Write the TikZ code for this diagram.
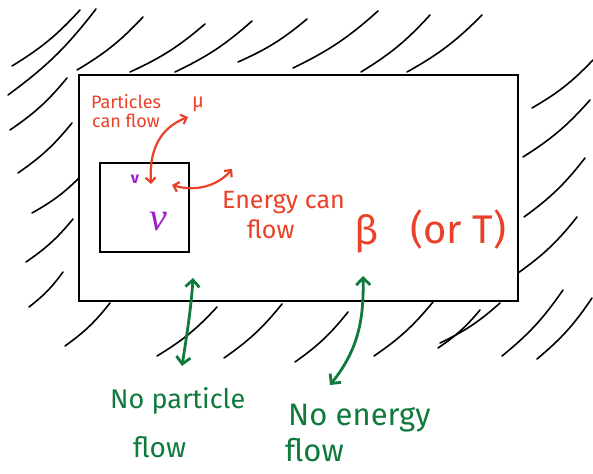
\documentclass[tikz,border=0pt]{standalone}
\usepackage{fontspec}
\setmainfont{Fira Sans}
\newfontfamily\serifgreek{Liberation Serif}
\usetikzlibrary{arrows.meta}
\definecolor{hred}{HTML}{EA4128}
\definecolor{hgreen}{HTML}{0F7A3C}
\definecolor{hpurple}{HTML}{A01FC8}
\tikzset{
  hatch/.style={line width=1.6pt, line cap=round},
  wall/.style={draw=black, line width=2.2pt},
  redarrow/.style={hred, line width=2.2pt, line cap=round, {Straight Barb[length=5pt,width=10pt]}-{Straight Barb[length=5pt,width=10pt]}},
  greenarrow/.style={hgreen, line width=2.8pt, line cap=round, {Straight Barb[length=7pt,width=14pt]}-{Straight Barb[length=7pt,width=14pt]}},
  redtxt/.style={text=hred, inner sep=0pt, anchor=west},
  greentxt/.style={text=hgreen, inner sep=0pt, anchor=west},
}
\begin{document}
\begin{tikzpicture}[x=1pt,y=-1pt]
\useasboundingbox (0,0) rectangle (593,473);
% hatching
\foreach \xa/\ya/\xb/\yb in {12/66/80/10, 8/95/96/9, 77/70/143/17, 130/72/205/24, 175/72/252/21, 238/62/307/19, 293/68/378/11, 361/72/430/15, 407/72/482/15,
  10/130/67/78, 18/173/72/123, 32/213/82/175, 26/262/73/219, 29/307/63/272, 65/346/110/303, 157/356/217/307, 224/358/282/304, 295/362/348/312, 374/356/433/302, 438/348/480/310, 440/343/500/303, 502/356/563/290, 537/359/592/298,
  532/108/593/60, 523/157/590/100, 524/217/585/158, 518/273/577/217}
  \draw[hatch] (\xa,\ya) to[bend right=8] (\xb,\yb);
% boxes
\node[wall, fill=white, inner sep=0pt, minimum width=439pt, minimum height=226pt, anchor=north west] (outer) at (78,74) {};
\node[wall, inner sep=0pt, minimum width=89pt, minimum height=89pt, anchor=north west] (inner) at (99,162) {};
% red labels
\node[redtxt, font=\fontsize{18}{18}\selectfont] (part) at (91,102) {Particles};
\node[redtxt, font=\fontsize{18}{18}\selectfont] (canflow) at (92,121) {can flow};
\node[redtxt, font=\fontsize{20}{20}\selectfont] (mu) at (192,104) {μ};
\node[redtxt, font=\fontsize{25}{25}\selectfont] (energy) at (222,203) {Energy can};
\node[redtxt, font=\fontsize{25}{25}\selectfont] (eflow) at (247,229) {flow};
\node[redtxt, font=\fontsize{40}{40}\selectfont] (beta) at (354,234) {β};
\node[redtxt, font=\fontsize{40}{40}\selectfont] (orT) at (410,229) {(or T)};
% purple
\node[text=hpurple, inner sep=0pt, font=\fontsize{16}{16}\selectfont\bfseries] (vsmall) at (135,179) {v};
\node[text=hpurple, inner sep=0pt, font=\fontsize{40}{40}\selectfont\serifgreek\itshape] (nu) at (158,222) {ν};
% green labels
\node[greentxt, font=\fontsize{27}{27}\selectfont] (nopart) at (110,401) {No particle};
\node[greentxt, font=\fontsize{28}{28}\selectfont] (pflow) at (133,447) {flow};
\node[greentxt, font=\fontsize{31}{31}\selectfont] (noen) at (288,418) {No energy};
\node[greentxt, font=\fontsize{31}{31}\selectfont] (nflow) at (285,450) {flow};
% arrow end points
\coordinate (pa) at (151,184);
\coordinate (pb) at (188,117);
\coordinate (ea) at (172,185);
\coordinate (eb) at (232,169);
\coordinate (ga) at (193,278);
\coordinate (gb) at (182,366);
\coordinate (ha) at (363,276);
\coordinate (hb) at (330,385);
% arrows
\draw[redarrow] (pa) .. controls (149,150) and (160,128) .. (pb);
\draw[redarrow] (ea) .. controls (195,192) and (218,186) .. (eb);
\draw[greenarrow] (ga) .. controls (191,310) and (186,340) .. (gb);
\draw[greenarrow] (ha) .. controls (364,320) and (358,350) .. (hb);
\end{tikzpicture}
\end{document}
